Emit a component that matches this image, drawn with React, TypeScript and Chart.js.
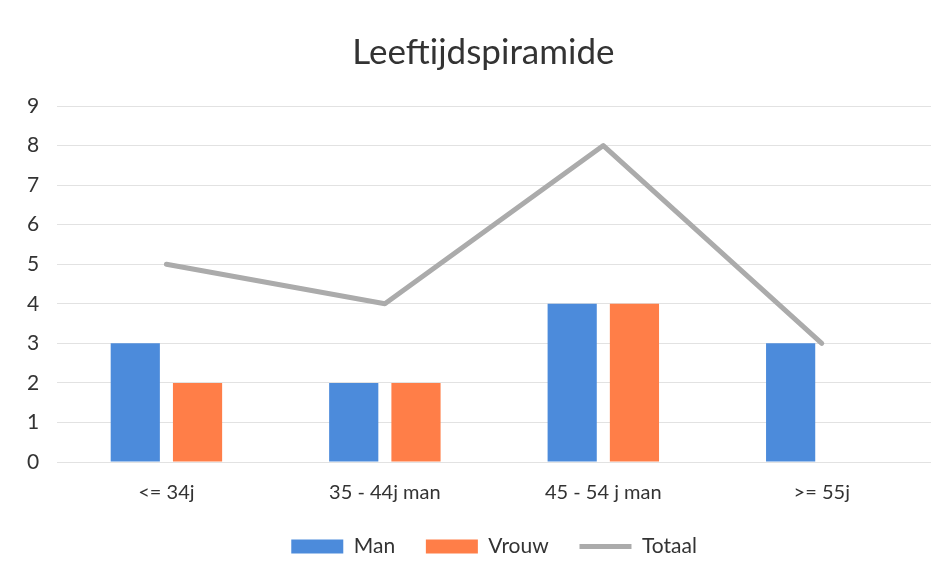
import React, { useEffect, useRef } from "react";
import { Chart, registerables } from "chart.js";

Chart.register(...registerables);

const categories = ["<= 34j", "35 - 44j man", "45 - 54 j man", ">= 55j"];
const manValues = [3, 2, 4, 3];
const vrouwValues = [2, 2, 4, 0];
const totaalValues = [5, 4, 8, 3];
const yTicks = [0, 1, 2, 3, 4, 5, 6, 7, 8, 9];

const FONT = "Lato, 'Open Sans', sans-serif";
const TEXT = "#333333";

export default function App() {
  const ref = useRef<HTMLCanvasElement | null>(null);

  useEffect(() => {
    document.body.style.margin = "0";
    const canvas = ref.current;
    if (!canvas) return;
    const chart = new Chart(canvas, {
      type: "bar",
      data: {
        labels: categories,
        datasets: [
          {
            type: "bar",
            label: "Man",
            data: manValues,
            backgroundColor: "#4C8BDB",
            borderWidth: 0,
            barPercentage: 0.79,
            categoryPercentage: 0.57,
            order: 2,
          },
          {
            type: "bar",
            label: "Vrouw",
            data: vrouwValues,
            backgroundColor: "#FF7E48",
            borderWidth: 0,
            barPercentage: 0.79,
            categoryPercentage: 0.57,
            order: 2,
          },
          {
            type: "line",
            label: "Totaal",
            data: totaalValues,
            borderColor: "#ABABAB",
            backgroundColor: "#ABABAB",
            borderWidth: 5,
            borderCapStyle: "round",
            borderJoinStyle: "round",
            pointRadius: 0,
            tension: 0,
            order: 1,
          },
        ],
      },
      options: {
        animation: false,
        responsive: false,
        layout: { padding: { left: 9, right: 20, top: 10, bottom: 16 } },
        plugins: {
          title: {
            display: true,
            text: "   Leeftijdspiramide",
            color: TEXT,
            font: { family: FONT, size: 35, weight: "normal" },
            padding: { top: 22, bottom: 32 },
          },
          legend: {
            position: "bottom",
            fullSize: false,
            labels: {
              color: TEXT,
              font: { family: FONT, size: 21 },
              usePointStyle: true,
              pointStyleWidth: 52,
              boxHeight: 14,
              padding: 20,
              generateLabels: (c: any) => {
                const items = Chart.defaults.plugins.legend.labels.generateLabels(c);
                items.sort((a: any, b: any) => a.datasetIndex - b.datasetIndex);
                items.forEach((it: any) => {
                  const isLine = it.datasetIndex === 2;
                  it.pointStyle = isLine ? "line" : "rect";
                  it.lineWidth = isLine ? 5 : 0;
                  if (!isLine) it.text = it.text + "  ";
                });
                return items;
              },
            },
          },
          tooltip: { enabled: false },
        },
        scales: {
          x: {
            grid: { display: false },
            border: { display: false },
            ticks: { color: TEXT, font: { family: FONT, size: 20 }, padding: 11 },
          },
          y: {
            min: 0,
            max: 9,
            afterBuildTicks: (axis: any) => {
              axis.ticks = yTicks.map((v) => ({ value: v }));
            },
            grid: { color: "#E2E2E2", drawTicks: false },
            border: { display: false },
            ticks: { color: TEXT, font: { family: FONT, size: 21 }, padding: 18 },
          },
        },
      },
    });
    return () => chart.destroy();
  }, []);

  return <canvas ref={ref} width={951} height={583} style={{ display: "block" }} />;
}
